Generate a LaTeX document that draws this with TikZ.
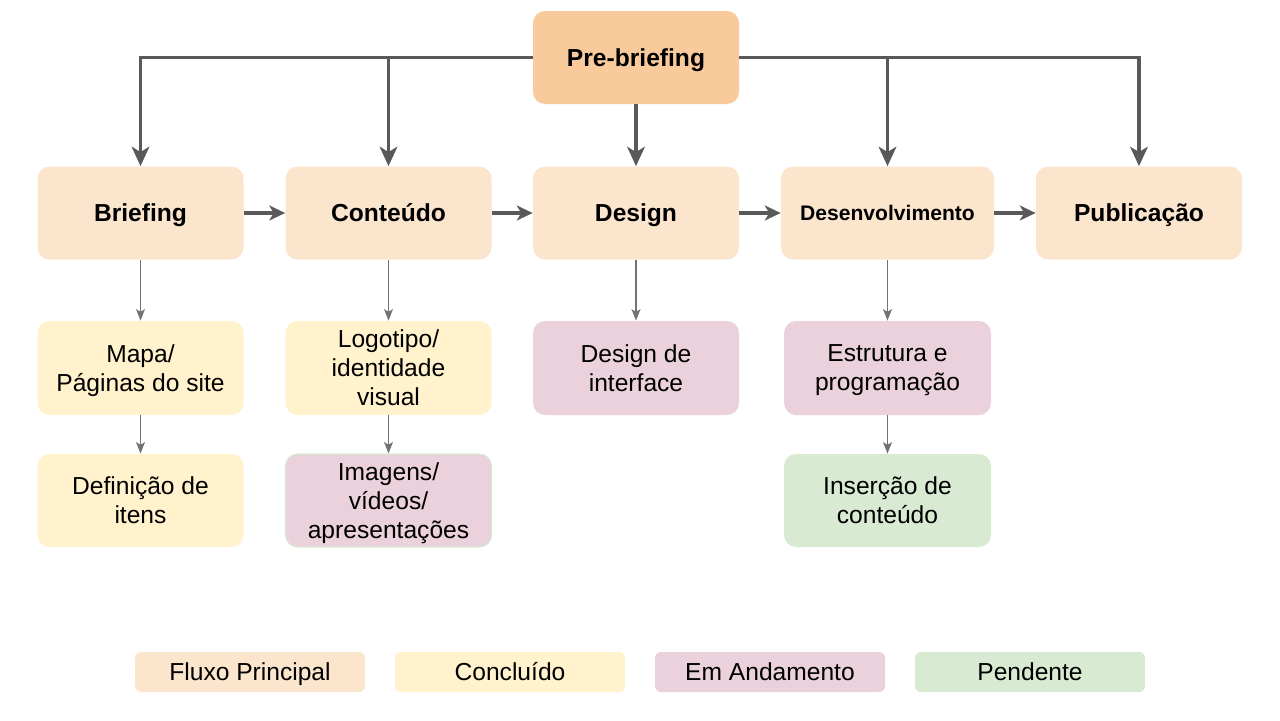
\documentclass[tikz,border=0pt]{standalone}
\usepackage{fontspec}
\setmainfont{Liberation Sans}
\usetikzlibrary{arrows.meta}
\definecolor{preorange}{HTML}{F9CB9C}
\definecolor{mainpeach}{HTML}{FCE5CD}
\definecolor{doneyellow}{HTML}{FFF2CC}
\definecolor{workpink}{HTML}{EAD1DC}
\definecolor{waitgreen}{HTML}{D9EAD3}
\definecolor{arrowgrey}{HTML}{595959}
\begin{document}
\begin{tikzpicture}[
        box/.style={rounded corners=0.24cm, align=center, font=\fontsize{14}{16.5}\selectfont,
            minimum width=4.12cm, minimum height=1.86cm, inner sep=2pt, text depth=0pt},
        mainbox/.style={box, fill=mainpeach, font=\fontsize{14}{16.5}\selectfont\bfseries, text height=10pt},
        donebox/.style={box, fill=doneyellow},
        workbox/.style={box, fill=workpink},
        waitbox/.style={box, fill=waitgreen},
        keybox/.style={rounded corners=0.12cm, minimum width=4.6cm, minimum height=0.8cm,
            font=\fontsize{14}{16}\selectfont, text height=10pt, text depth=0pt},
        bigarrow/.style={-{Stealth[length=11pt,width=10pt,inset=3pt]}, line width=2.2pt, draw=arrowgrey},
        sidearrow/.style={-{Stealth[length=9pt,width=8.5pt,inset=2.5pt]}, line width=1.8pt, draw=arrowgrey},
        smallarrow/.style={-{Stealth[length=6.5pt,width=5pt,inset=1.5pt]}, line width=1pt, draw=arrowgrey!85}
    ]
            \useasboundingbox (0,0) rectangle (25.6,-14.4);

            \node[mainbox, fill=preorange] (pre) at (12.72,-1.15) {Pre-briefing};

            \node[mainbox] (brief) at (2.81,-4.26) {Briefing};
            \node[mainbox] (cont) at (7.77,-4.26) {Conteúdo};
            \node[mainbox] (design) at (12.72,-4.26) {Design};
            \node[mainbox, minimum width=4.26cm, text height=8.6pt, font=\fontsize{12}{14}\selectfont\bfseries] (dev) at (17.75,-4.26) {Desenvolvimento};
            \node[mainbox] (pub) at (22.78,-4.26) {Publicação};

            \node[donebox, minimum height=1.88cm] (mapa) at (2.81,-7.36) {Mapa/\\Páginas do site};
            \node[donebox, minimum height=1.88cm] (logo) at (7.77,-7.36) {Logotipo/\\identidade\\visual};
            \node[workbox, minimum height=1.88cm] (interface) at (12.72,-7.36) {Design de\\interface};
            \node[workbox, minimum height=1.88cm, minimum width=4.14cm] (estrutura) at (17.75,-7.36) {Estrutura e\\programação};

            \node[donebox] (itens) at (2.81,-10.01) {Definição de\\itens};
            \node[workbox, draw=waitgreen, line width=0.6pt] (midia) at (7.77,-10.01) {Imagens/\\vídeos/\\apresentações};
            \node[waitbox, minimum width=4.14cm] (insercao) at (17.75,-10.01) {Inserção de\\conteúdo};

            \node[keybox, fill=mainpeach] (k1) at (5.0,-13.44) {Fluxo Principal};
            \node[keybox, fill=doneyellow] (k2) at (10.2,-13.44) {Concluído};
            \node[keybox, fill=workpink] (k3) at (15.4,-13.44) {Em Andamento};
            \node[keybox, fill=waitgreen] (k4) at (20.6,-13.44) {Pendente};

            \coordinate (lbranch) at (cont |- pre);
            \coordinate (rbranch) at (dev |- pre);

            \draw[bigarrow] (pre.west) -| (brief); \draw[bigarrow] (lbranch) to (cont);
            \draw[bigarrow] (pre.east) -| (pub); \draw[bigarrow] (rbranch) to (dev);
            \draw[bigarrow] (pre) to (design);

            \draw[sidearrow] (brief) to (cont); \draw[sidearrow] (cont) to (design);
            \draw[sidearrow] (design) to (dev); \draw[sidearrow] (dev) to (pub);

            \draw[smallarrow] (brief) to (mapa); \draw[smallarrow] (mapa) to (itens);
            \draw[smallarrow] (cont) to (logo); \draw[smallarrow] (logo) to (midia);
            \draw[smallarrow] (design) to (interface);
            \draw[smallarrow] (dev) to (estrutura); \draw[smallarrow] (estrutura) to (insercao);
        \end{tikzpicture}
\end{document}
